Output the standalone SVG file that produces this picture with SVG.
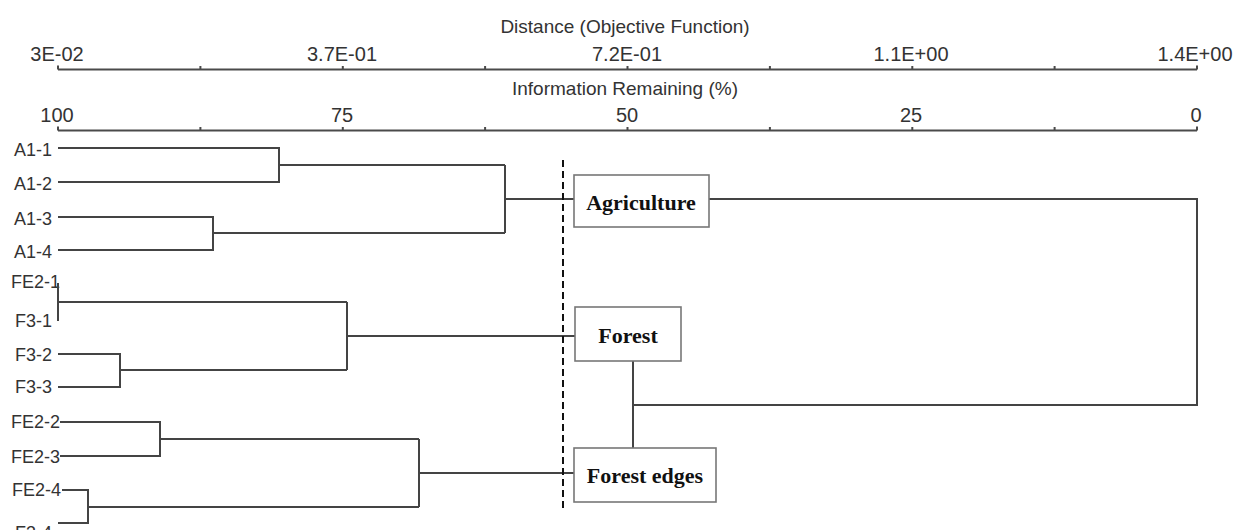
<svg xmlns="http://www.w3.org/2000/svg" width="1239" height="530" viewBox="0 0 1239 530">
<style>
.ax{fill:none;stroke:#4a4a4a;stroke-width:2}
.tk{font-family:"Liberation Sans",Arial,sans-serif;font-size:20px;fill:#333;text-anchor:middle}
.tt{font-family:"Liberation Sans",Arial,sans-serif;font-size:19px;fill:#333;text-anchor:middle}
.lf{font-family:"Liberation Sans",Arial,sans-serif;font-size:18px;fill:#333;text-anchor:end}
.cn{fill:none;stroke:#444;stroke-width:2}
.bx{fill:#fff;stroke:#777;stroke-width:1.6}
.bl{font-family:"Liberation Serif","Times New Roman",serif;font-size:22px;font-weight:bold;fill:#111;text-anchor:middle}
</style>
<rect width="1239" height="530" fill="#fff"/>
<g id="axis-distance">
<text class="tt" x="625" y="33">Distance (Objective Function)</text>
<path class="ax" d="M58,69.5 H1197 M58,69.5 V65.5 M200.4,69.5 V66 M342.8,69.5 V66 M485.1,69.5 V66 M627.5,69.5 V66 M769.9,69.5 V66 M912.3,69.5 V66 M1054.6,69.5 V66 M1197,69.5 V65.5"/>
<text class="tk" x="57" y="61">3E-02</text>
<text class="tk" x="342" y="61">3.7E-01</text>
<text class="tk" x="627" y="61">7.2E-01</text>
<text class="tk" x="911" y="61">1.1E+00</text>
<text class="tk" x="1195" y="61">1.4E+00</text>
</g>
<g id="axis-info">
<text class="tt" x="625" y="95">Information Remaining (%)</text>
<path class="ax" d="M58,130.5 H1197 M58,130.5 V126.5 M200.4,130.5 V127 M342.8,130.5 V127 M485.1,130.5 V127 M627.5,130.5 V127 M769.9,130.5 V127 M912.3,130.5 V127 M1054.6,130.5 V127 M1197,130.5 V126.5"/>
<text class="tk" x="57" y="122">100</text>
<text class="tk" x="342" y="122">75</text>
<text class="tk" x="627" y="122">50</text>
<text class="tk" x="911" y="122">25</text>
<text class="tk" x="1196" y="122">0</text>
</g>
<g id="leaves">
<text class="lf" x="52" y="156">A1-1</text>
<text class="lf" x="52" y="190">A1-2</text>
<text class="lf" x="52" y="225">A1-3</text>
<text class="lf" x="52" y="258">A1-4</text>
<text class="lf" x="60" y="288">FE2-1</text>
<text class="lf" x="52" y="327">F3-1</text>
<text class="lf" x="52" y="361">F3-2</text>
<text class="lf" x="52" y="393">F3-3</text>
<text class="lf" x="60" y="428">FE2-2</text>
<text class="lf" x="60" y="463">FE2-3</text>
<text class="lf" x="61" y="496">FE2-4</text>
<text class="lf" x="52" y="539">F3-4</text>
</g>
<g id="connectors">
<path class="cn" d="M58,148 H279 V182 H58 M279,165 H505"/>
<path class="cn" d="M58,217 H213 V250 H58 M213,233 H505"/>
<path class="cn" d="M505,165 V233 M505,199 H574"/>
<path class="cn" d="M58,283 V321 M58,302 H347"/>
<path class="cn" d="M58,354 H120 V387 H58 M120,370 H347"/>
<path class="cn" d="M347,302 V370 M347,336 H575"/>
<path class="cn" d="M60,422 H160 V456 H60 M160,439 H419"/>
<path class="cn" d="M62,490 H88 V523 H58 M88,507 H419"/>
<path class="cn" d="M419,439 V507 M419,473 H574"/>
<path class="cn" d="M709,199 H1197 V405 H633"/>
<path class="cn" d="M633,361 V448"/>
</g>
<g id="cut-line">
<path d="M563,160 V510" stroke="#111" stroke-width="2" stroke-dasharray="7 4" fill="none"/>
</g>
<g id="node-agriculture">
<rect class="bx" x="574" y="175" width="135" height="52"/>
<text class="bl" x="641" y="210">Agriculture</text>
</g>
<g id="node-forest">
<rect class="bx" x="575" y="307" width="106" height="54"/>
<text class="bl" x="628" y="343">Forest</text>
</g>
<g id="node-forest-edges">
<rect class="bx" x="574" y="448" width="142" height="54"/>
<text class="bl" x="645" y="483">Forest edges</text>
</g>
</svg>
